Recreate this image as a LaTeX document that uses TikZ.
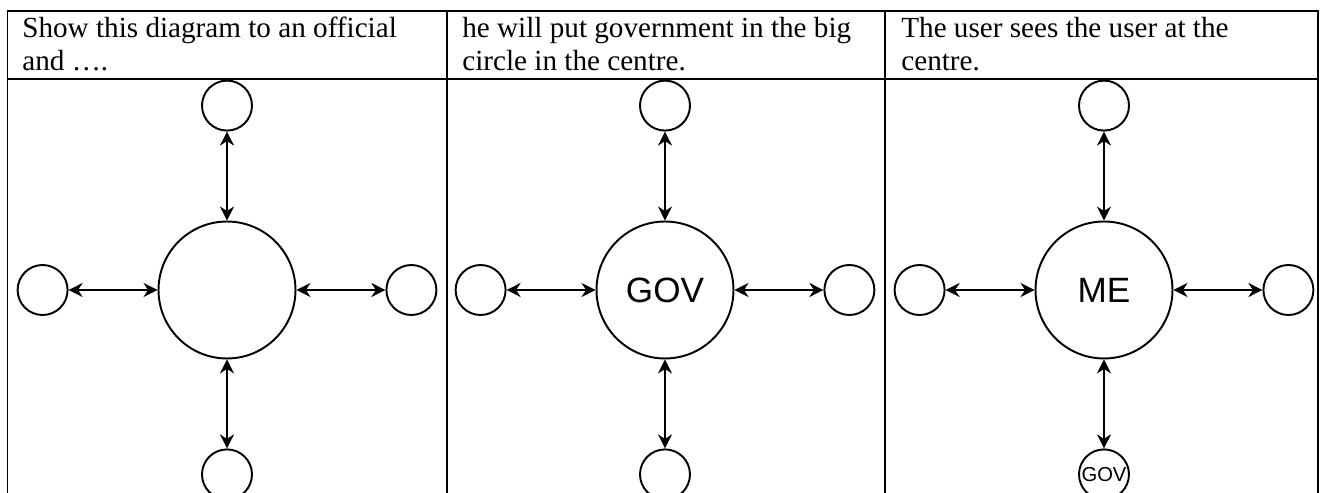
\documentclass[tikz,border=0pt]{standalone}
\usepackage{fontspec}
\setmainfont{Liberation Serif}
\setsansfont{Liberation Sans}
\usetikzlibrary{arrows.meta,positioning}

\begin{document}
\begin{tikzpicture}[x=0.02cm,y=-0.02cm,>={Stealth[length=8pt,width=8pt,inset=2.6pt]},node distance=1.78cm,
    big/.style={shape=circle,draw,line width=1.1pt,inner sep=0pt,minimum size=2.74cm,
                font=\sffamily\fontsize{20}{24}\selectfont},
    small/.style={shape=circle,draw,line width=1.1pt,inner sep=0pt,minimum size=1cm},
    link/.style={<->,line width=1pt},
    cell/.style={anchor=base west,inner sep=0pt,font=\fontsize{16.6}{19.1}\selectfont},
    rule/.style={line width=1.1pt}]
  \clip (0,0) rectangle (1320,493);

  % table
  \draw[rule] (7.5,500) |- (1318,11) -- (1318,500);
  \draw[rule] (7.5,79) -- (1318,79);
  \draw[rule] (447,11) -- (447,500);
  \draw[rule] (885,11) -- (885,500);

  \node[cell] (h1)  at (22,38)  {Show this diagram to an official};
  \node[cell] (h1b) at (22,71)  {and ….};
  \node[cell] (h2)  at (462,38) {he will put government in the big};
  \node[cell] (h2b) at (462,71) {circle in the centre.};
  \node[cell] (h3)  at (901,38) {The user sees the user at the};
  \node[cell] (h3b) at (901,71) {centre.};

  % first panel
  \node[big] (c1) at (227,290) {};
  \node[small] (t1) [above=of c1] {};
  \node[small] (l1) [left=of c1]  {};
  \node[small] (r1) [right=of c1] {};
  \node[small] (b1) [below=of c1] {};
  \path[link] (c1) edge (t1) edge (l1) edge (r1) edge (b1);

  % second panel
  \node[big] (c2) at (665,290) {GOV};
  \node[small] (t2) [above=of c2] {};
  \node[small] (l2) [left=of c2]  {};
  \node[small] (r2) [right=of c2] {};
  \node[small] (b2) [below=of c2] {};
  \path[link] (c2) edge (t2) edge (l2) edge (r2) edge (b2);

  % third panel
  \node[big] (c3) at (1104,290) {ME};
  \node[small] (t3) [above=of c3] {};
  \node[small] (l3) [left=of c3]  {};
  \node[small] (r3) [right=of c3] {};
  \node[small,font=\sffamily\fontsize{11.5}{13}\selectfont] (b3) [below=of c3] {GOV};
  \path[link] (c3) edge (t3) edge (l3) edge (r3) edge (b3);
\end{tikzpicture}
\end{document}
